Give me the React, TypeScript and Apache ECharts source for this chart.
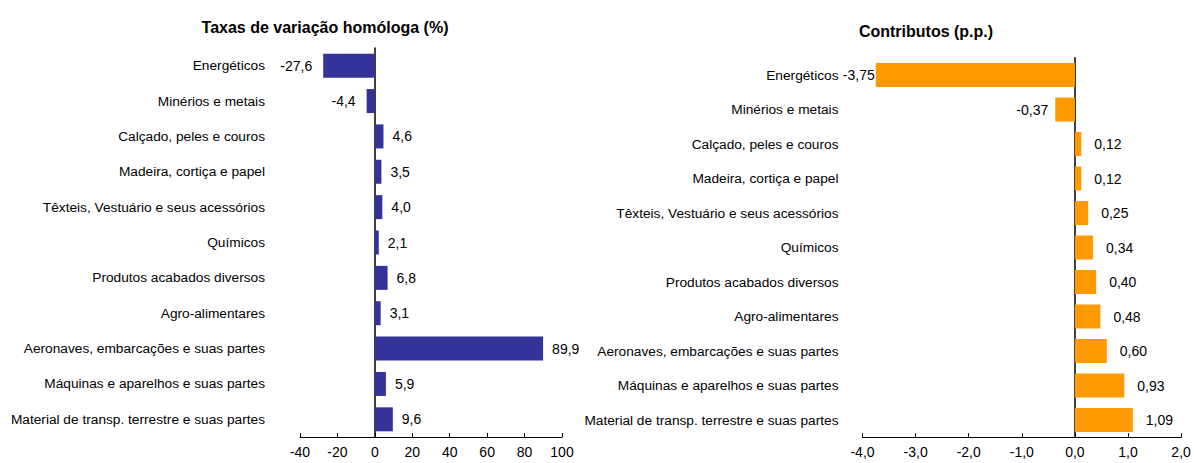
import React, { useEffect, useRef } from "react";
import * as echarts from "echarts";

const categories = [
  "Energéticos",
  "Minérios e metais",
  "Calçado, peles e couros",
  "Madeira, cortiça e papel",
  "Têxteis, Vestuário e seus acessórios",
  "Químicos",
  "Produtos acabados diversos",
  "Agro-alimentares",
  "Aeronaves, embarcações e suas partes",
  "Máquinas e aparelhos e suas partes",
  "Material de transp. terrestre e suas partes",
];

const taxas = [-27.6, -4.4, 4.6, 3.5, 4.0, 2.1, 6.8, 3.1, 89.9, 5.9, 9.6];
const contributos = [-3.75, -0.37, 0.12, 0.12, 0.25, 0.34, 0.4, 0.48, 0.6, 0.93, 1.09];

const leftTitle = "Taxas de variação homóloga (%)";
const rightTitle = "Contributos (p.p.)";

const FONT = "'Liberation Sans', Arial, sans-serif";

const fmt = (v: number, d: number) => v.toFixed(d).replace(".", ",");

export default function App() {
  const ref = useRef<HTMLDivElement>(null);
  useEffect(() => {
    if (!ref.current) return;
    const chart = echarts.init(ref.current, null, { renderer: "svg" });
    const textStyle = { fontFamily: FONT, color: "#000", fontSize: 14 };
    const catStyle = { fontFamily: FONT, color: "#000", fontSize: 13.7 };
    const mkData = (arr: number[], d: number, posDist: number, negDist: number[]) =>
      arr.map((v, i) => ({
        value: v,
        label: {
          show: true,
          position: v < 0 ? "left" : "right",
          distance: v < 0 ? negDist[i] : posDist,
          formatter: () => fmt(v, d),
          ...textStyle,
        },
      }));
    chart.setOption({
      animation: false,
      textStyle: { fontFamily: FONT },
      title: [
        {
          text: leftTitle,
          left: 320,
          top: 14,
          textAlign: "center",
          textStyle: { fontFamily: FONT, fontSize: 16, fontWeight: "bold", color: "#000" },
        },
        {
          text: rightTitle,
          left: 921,
          top: 18,
          textAlign: "center",
          textStyle: { fontFamily: FONT, fontSize: 16, fontWeight: "bold", color: "#000" },
        },
      ],
      grid: [
        { left: 300, top: 48, width: 262, height: 389, containLabel: false, outerBoundsMode: "none" },
        { left: 862.5, top: 57.75, width: 318.6, height: 379.5, containLabel: false, outerBoundsMode: "none" },
      ],
      xAxis: [
        {
          gridIndex: 0,
          type: "value",
          min: -40,
          max: 100,
          interval: 20,
          splitLine: { show: false },
          axisLine: { show: true, lineStyle: { color: "#000", width: 1 } },
          axisTick: { show: true, inside: true, length: 4, lineStyle: { color: "#000" } },
          axisLabel: { ...textStyle, margin: 8 },
        },
        {
          gridIndex: 1,
          type: "value",
          min: -4,
          max: 2,
          interval: 1,
          splitLine: { show: false },
          axisLine: { show: true, lineStyle: { color: "#000", width: 1 } },
          axisTick: { show: true, inside: true, length: 4, lineStyle: { color: "#000" } },
          axisLabel: { ...textStyle, margin: 8, formatter: (v: number) => fmt(v, 1) },
        },
      ],
      yAxis: [
        {
          gridIndex: 0,
          type: "category",
          data: categories,
          inverse: true,
          axisLine: { show: true, onZero: true, lineStyle: { color: "#000", width: 1.5 } },
          axisTick: { show: false },
          axisLabel: { ...catStyle, margin: 35 },
        },
        {
          gridIndex: 1,
          type: "category",
          data: categories,
          inverse: true,
          axisLine: { show: true, onZero: true, lineStyle: { color: "#000", width: 1.5 } },
          axisTick: { show: false },
          axisLabel: { ...catStyle, margin: 24 },
        },
      ],
      series: [
        {
          type: "bar",
          xAxisIndex: 0,
          yAxisIndex: 0,
          data: mkData(taxas, 1, 9, [11, 11, 0, 0, 0, 0, 0, 0, 0, 0, 0]),
          barWidth: 24,
          itemStyle: { color: "#333399" },
        },
        {
          type: "bar",
          xAxisIndex: 1,
          yAxisIndex: 1,
          data: mkData(contributos, 2, 13, [1, 7, 0, 0, 0, 0, 0, 0, 0, 0, 0]),
          barWidth: 24,
          itemStyle: { color: "#FF9900" },
        },
      ],
    });
    return () => chart.dispose();
  }, []);
  return (
    <div
      ref={ref}
      style={{ position: "absolute", left: 0, top: 0, width: 1194, height: 463, background: "#fff" }}
    />
  );
}
